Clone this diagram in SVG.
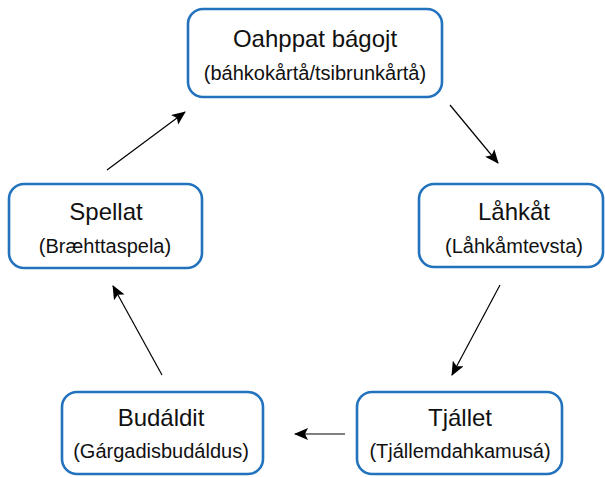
<svg xmlns="http://www.w3.org/2000/svg" width="605" height="477" viewBox="0 0 605 477">
<defs>
<style>
.box{fill:#fff;stroke:#2272bd;stroke-width:2.6}
.t{font-family:"Liberation Sans",Arial,sans-serif;font-size:24px;fill:#111;text-anchor:middle}
.s{font-family:"Liberation Sans",Arial,sans-serif;font-size:20px;fill:#111;text-anchor:middle}
.c{stroke:#000;stroke-width:1.2;fill:none;marker-end:url(#ah)}
</style>
<marker id="ah" markerWidth="14" markerHeight="12" refX="13" refY="6" orient="auto" markerUnits="userSpaceOnUse">
<path d="M0,0 L14,6 L0,12 L3,6 Z" fill="#000"/>
</marker>
</defs>
<rect width="605" height="477" fill="#fff"/>
<g id="connectors">
<line class="c" x1="107" y1="170" x2="185" y2="112"/>
<line class="c" x1="450" y1="105" x2="498" y2="163"/>
<line class="c" x1="500" y1="285" x2="452" y2="375"/>
<line class="c" x1="345" y1="434" x2="295" y2="434"/>
<line class="c" x1="162" y1="375" x2="113" y2="286"/>
</g>
<g id="n-oahppat">
<rect class="box" x="188" y="9" width="254" height="88" rx="15"/>
<text class="t" x="315" y="47">Oahppat bágojt</text>
<text class="s" x="315" y="80">(báhkokårtå/tsibrunkårtå)</text>
</g>
<g id="n-lahkat">
<rect class="box" x="419" y="184" width="184" height="83" rx="15"/>
<text class="t" x="514" y="220">Låhkåt</text>
<text class="s" x="514" y="253">(Låhkåmtevsta)</text>
</g>
<g id="n-tjallet">
<rect class="box" x="357" y="392" width="205" height="82" rx="15"/>
<text class="t" x="460" y="426">Tjállet</text>
<text class="s" x="460" y="458">(Tjállemdahkamusá)</text>
</g>
<g id="n-budaldit">
<rect class="box" x="62" y="392" width="201" height="82" rx="15"/>
<text class="t" x="161" y="426">Budáldit</text>
<text class="s" x="161" y="458">(Gárgadisbudáldus)</text>
</g>
<g id="n-spellat">
<rect class="box" x="9" y="184" width="193" height="84" rx="15"/>
<text class="t" x="106" y="220">Spellat</text>
<text class="s" x="105" y="253">(Bræhttaspela)</text>
</g>
</svg>
